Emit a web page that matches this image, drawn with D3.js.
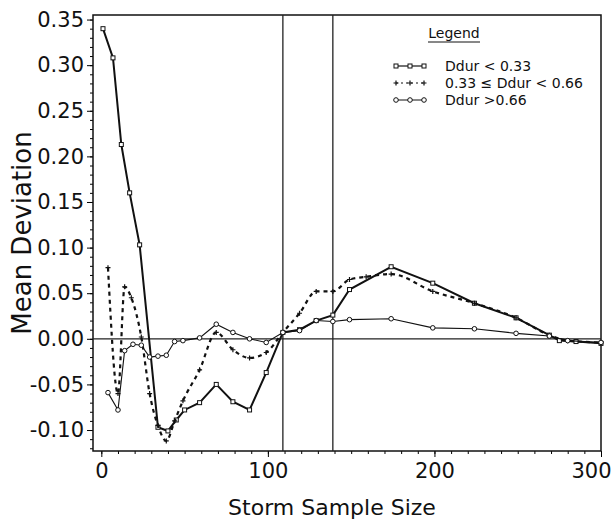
<!DOCTYPE html>
<html>
<head>
<meta charset="utf-8">
<script src="https://cdn.jsdelivr.net/npm/d3@7"></script>
<style>
  body { margin: 0; background: #fff; }
  text { font-family: "DejaVu Sans", sans-serif; fill: #111; }
</style>
</head>
<body>
<svg id="chart" width="611" height="524"></svg>
<script>
// Data
const sizesShort = [1, 7, 12, 17, 23, 34, 40, 45, 50, 59, 69, 79, 89, 99, 109, 119, 129, 139, 149, 174, 199, 224, 249, 269, 275, 285, 300];
const devShort = [0.340, 0.308, 0.213, 0.160, 0.103, -0.097, -0.101, -0.089, -0.078, -0.070, -0.050, -0.069, -0.078, -0.037, 0.007, 0.010, 0.020, 0.026, 0.054, 0.079, 0.061, 0.039, 0.023, 0.004, -0.002, -0.003, -0.005];

const sizesMid = [4, 10, 14, 18, 24, 29, 34, 39, 44, 49, 59, 69, 79, 89, 99, 109, 119, 129, 139, 149, 159, 174, 199, 224, 249, 269, 280, 300];
const devMid = [0.078, -0.060, 0.057, 0.045, 0.002, -0.060, -0.095, -0.112, -0.090, -0.068, -0.034, 0.007, -0.012, -0.021, -0.015, 0.007, 0.028, 0.052, 0.052, 0.065, 0.068, 0.071, 0.052, 0.039, 0.023, 0.004, -0.002, -0.004];

const sizesLong = [4, 10, 14, 19, 24, 29, 34, 39, 44, 49, 59, 69, 79, 89, 99, 109, 119, 129, 139, 149, 174, 199, 224, 249, 269, 280, 300];
const devLong = [-0.059, -0.078, -0.013, -0.006, -0.007, -0.020, -0.019, -0.018, -0.003, -0.002, 0.001, 0.016, 0.007, 0.000, -0.004, 0.007, 0.009, 0.020, 0.019, 0.021, 0.022, 0.012, 0.011, 0.006, 0.003, -0.002, -0.004];

const refSizes = [109, 139];
const yTicks = [-0.10, -0.05, 0.00, 0.05, 0.10, 0.15, 0.20, 0.25, 0.30, 0.35];
const xTicks = [0, 100, 200, 300];
const legendLabels = ["Ddur < 0.33", "0.33 \u2264 Ddur < 0.66", "Ddur >0.66"];

const svg = d3.select("#chart");

const x = d3.scaleLinear().domain([-5, 300]).range([93, 601]);
const y = d3.scaleLinear().domain([-0.123, 0.355]).range([451, 15]);

// Minor ticks
svg.append("g")
  .attr("transform", "translate(93,0)")
  .call(d3.axisLeft(y).tickValues(d3.range(-12, 36).map(d => d / 100)).tickSize(3).tickFormat(""))
  .call(g => g.select(".domain").remove());

svg.append("g")
  .attr("transform", "translate(0,451)")
  .call(d3.axisBottom(x).tickValues(d3.range(0, 301, 10)).tickSize(3).tickFormat(""))
  .call(g => g.select(".domain").remove());

// Major ticks + labels
svg.append("g")
  .attr("transform", "translate(93,0)")
  .call(d3.axisLeft(y).tickValues(yTicks).tickSize(6).tickPadding(3).tickFormat(d => d.toFixed(2)))
  .call(g => g.select(".domain").remove())
  .selectAll("text")
  .style("font-size", "21px")
  .style("font-family", "'DejaVu Sans', sans-serif")
  .attr("fill", "#111");

svg.append("g")
  .attr("transform", "translate(0,451)")
  .call(d3.axisBottom(x).tickValues(xTicks).tickSize(6).tickPadding(6).tickFormat(d3.format("d")))
  .call(g => g.select(".domain").remove())
  .selectAll("text")
  .attr("dx", d => d === 300 ? -10 : 0)
  .style("font-size", "21px")
  .style("font-family", "'DejaVu Sans', sans-serif")
  .attr("fill", "#111");

// Frame
svg.append("rect")
  .attr("x", x(-5)).attr("y", y(0.355))
  .attr("width", x(300) - x(-5)).attr("height", y(-0.123) - y(0.355))
  .attr("fill", "none").attr("stroke", "#111").attr("stroke-width", 1.5);

// Zero line and reference lines
svg.append("line")
  .attr("x1", x(-5)).attr("x2", x(300))
  .attr("y1", y(0)).attr("y2", y(0))
  .attr("stroke", "#222").attr("stroke-width", 1.2);

svg.selectAll("line.ref")
  .data(refSizes)
  .enter()
  .append("line")
  .attr("class", "ref")
  .attr("x1", d => x(d)).attr("x2", d => x(d))
  .attr("y1", y(0.355)).attr("y2", y(-0.123))
  .attr("stroke", "#222").attr("stroke-width", 1.3);

// Series
const series = [
  { xs: sizesShort, ys: devShort, width: 2, dash: null, marker: "square", curve: d3.curveLinear },
  { xs: sizesMid, ys: devMid, width: 2.2, dash: "4,4", marker: "plus", curve: d3.curveMonotoneX },
  { xs: sizesLong, ys: devLong, width: 1.1, dash: null, marker: "circle", curve: d3.curveLinear }
];

function drawMarker(g, type, cx, cy) {
  if (type === "square") {
    g.append("rect")
      .attr("x", cx - 2).attr("y", cy - 2)
      .attr("width", 4).attr("height", 4)
      .attr("fill", "#fff").attr("stroke", "#111").attr("stroke-width", 1);
  } else if (type === "circle") {
    g.append("circle")
      .attr("cx", cx).attr("cy", cy).attr("r", 2.3)
      .attr("fill", "#fff").attr("stroke", "#111").attr("stroke-width", 1);
  } else {
    g.append("path")
      .attr("d", `M${cx - 2.5},${cy}H${cx + 2.5}M${cx},${cy - 2.5}V${cy + 2.5}`)
      .attr("stroke", "#111").attr("stroke-width", 1.2);
  }
}

series.forEach(s => {
  const pts = s.xs.map((d, i) => [d, s.ys[i]]);
  const line = d3.line().x(d => x(d[0])).y(d => y(d[1])).curve(s.curve);
  svg.append("path")
    .attr("d", line(pts))
    .attr("fill", "none")
    .attr("stroke", "#111")
    .attr("stroke-width", s.width)
    .attr("stroke-dasharray", s.dash);
  const mg = svg.append("g");
  pts.forEach(p => drawMarker(mg, s.marker, x(p[0]), y(p[1])));
});

// Axis titles
svg.append("text")
  .attr("x", 332).attr("y", 515)
  .attr("text-anchor", "middle")
  .style("font-size", "22px")
  .text("Storm Sample Size");

svg.append("text")
  .attr("transform", "translate(31,233) rotate(-90)")
  .attr("text-anchor", "middle")
  .style("font-size", "26px")
  .text("Mean Deviation");

// Legend
const legend = svg.append("g").attr("id", "legend");
legend.append("text")
  .attr("x", 454).attr("y", 38)
  .attr("text-anchor", "middle")
  .style("font-size", "14px")
  .text("Legend");
legend.append("line")
  .attr("x1", 428).attr("x2", 480)
  .attr("y1", 42).attr("y2", 42)
  .attr("stroke", "#111").attr("stroke-width", 1);

const ls_y = [66, 83, 100];
series.forEach((s, i) => {
  const ly = ls_y[i];
  legend.append("line")
    .attr("x1", 396).attr("x2", 424)
    .attr("y1", ly).attr("y2", ly)
    .attr("stroke", "#111")
    .attr("stroke-width", s.width > 1.5 ? 1.2 : 1)
    .attr("stroke-dasharray", s.dash ? "2,3" : null);
  [396, 410, 424].forEach(cx => drawMarker(legend, s.marker, cx, ly));
  legend.append("text")
    .attr("x", 445).attr("y", ly + 5)
    .style("font-size", "14px")
    .text(legendLabels[i]);
});
</script>
</body>
</html>
